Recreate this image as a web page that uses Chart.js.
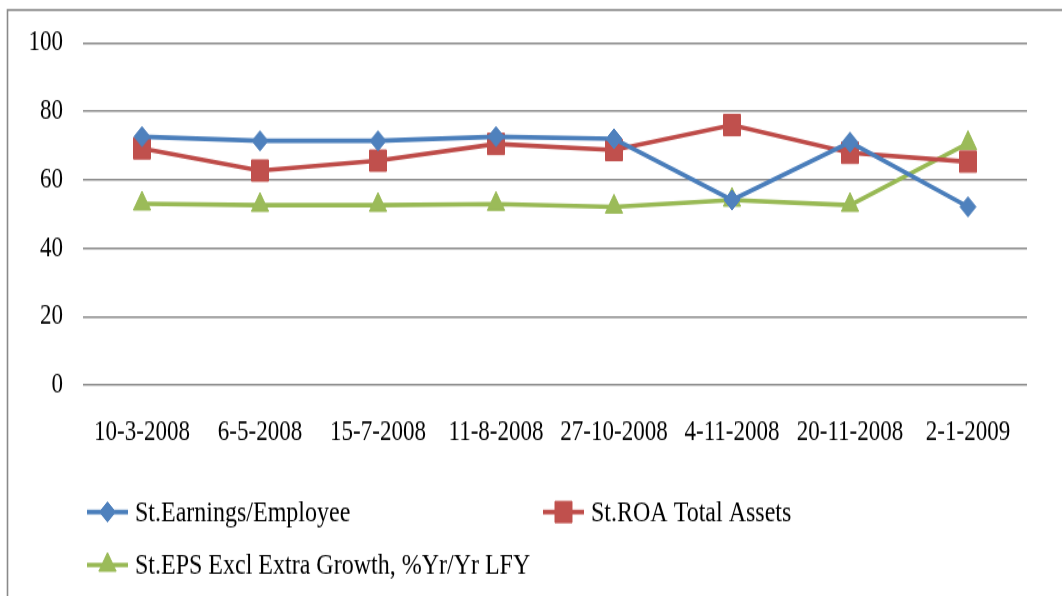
<!DOCTYPE html>
<html>
<head>
<meta charset="utf-8">
<script src="https://cdn.jsdelivr.net/npm/chart.js@4/dist/chart.umd.min.js"></script>
<style>
  html, body { margin: 0; padding: 0; background: #fff; overflow: hidden; width: 1062px; height: 596px; }
  #page { position: relative; width: 1062px; height: 596px; overflow: hidden; }
  #wrap { position: absolute; left: 0; top: 0; width: 1062px; height: 477px; transform: scaleY(1.25); transform-origin: 0 0; }
  canvas { display: block; }
</style>
</head>
<body>
<div id="page"><div id="wrap"><canvas id="chart" width="1062" height="477"></canvas></div></div>
<script>
// Dates of each observation
const dates = ['10-3-2008', '6-5-2008', '15-7-2008', '11-8-2008', '27-10-2008', '4-11-2008', '20-11-2008', '2-1-2009'];

// Series values
const earningsPerEmployee = [72.6, 71.4, 71.4, 72.6, 72.0, 54.1, 71.0, 52.1];
const roaTotalAssets      = [69.2, 62.7, 65.6, 70.5, 68.7, 76.0, 67.9, 65.3];
const epsExclExtraGrowth  = [53.0, 52.6, 52.6, 52.9, 52.1, 54.1, 52.6, 70.7];

// Series names
const seriesNames = ['St.Earnings/Employee', 'St.ROA Total Assets', 'St.EPS Excl Extra Growth, %Yr/Yr LFY'];

// Value axis ticks
const yTicks = [0, 20, 40, 60, 80, 100];

const FONT = "'Liberation Serif', 'Times New Roman', serif";
Chart.defaults.font.family = FONT;
Chart.defaults.color = '#000';

// Gray frame around the whole chart
const framePlugin = {
  id: 'frame',
  beforeDraw(chart) {
    const ctx = chart.ctx;
    ctx.save();
    ctx.fillStyle = '#fff';
    ctx.fillRect(0, 0, chart.width, chart.height);
    ctx.strokeStyle = '#8a8a8a';
    ctx.lineWidth = 1.6;
    ctx.strokeRect(7.5, 8, chart.width + 50, chart.height + 50);
    ctx.restore();
  }
};

// Legend laid out in two fixed columns below the plot
const columnLegend = {
  id: 'columnLegend',
  afterDraw(chart, args, opts) {
    const ctx = chart.ctx;
    ctx.save();
    chart.data.datasets.forEach((ds, i) => {
      const x = opts.columns[i % opts.columns.length];
      const y = opts.rows[Math.floor(i / opts.columns.length)];
      ctx.strokeStyle = ds.borderColor;
      ctx.lineWidth = ds.borderWidth;
      ctx.beginPath();
      ctx.moveTo(x, y);
      ctx.lineTo(x + opts.lineLength, y);
      ctx.stroke();
      ctx.fillStyle = ds.pointBackgroundColor;
      ctx.strokeStyle = ds.pointBackgroundColor;
      ctx.lineWidth = 1;
      Chart.helpers.drawPoint(ctx, {
        pointStyle: ds.pointStyle,
        radius: ds.pointRadius,
        rotation: 0,
        borderWidth: 1
      }, x + opts.lineLength / 2, y);
      ctx.fillStyle = '#000';
      ctx.font = opts.font;
      ctx.textBaseline = 'middle';
      ctx.textAlign = 'left';
      ctx.fillText(ds.label, x + opts.lineLength + opts.gap, y + 1);
    });
    ctx.restore();
  }
};

new Chart(document.getElementById('chart'), {
  type: 'line',
  data: {
    labels: dates,
    datasets: [
      {
        label: seriesNames[0],
        data: earningsPerEmployee,
        borderColor: '#4A7EBB',
        backgroundColor: '#4F81BD',
        pointBackgroundColor: '#4F81BD',
        pointBorderColor: '#4F81BD',
        pointStyle: 'rectRot',
        pointRadius: 8,
        pointBorderWidth: 1,
        borderWidth: 3.6
      },
      {
        label: seriesNames[1],
        data: roaTotalAssets,
        borderColor: '#BE4B48',
        backgroundColor: '#C0504D',
        pointBackgroundColor: '#C0504D',
        pointBorderColor: '#C0504D',
        pointStyle: 'rect',
        pointRadius: 12,
        pointBorderWidth: 1,
        borderWidth: 3.6
      },
      {
        label: seriesNames[2],
        data: epsExclExtraGrowth,
        borderColor: '#98B954',
        backgroundColor: '#9BBB59',
        pointBackgroundColor: '#9BBB59',
        pointBorderColor: '#9BBB59',
        pointStyle: 'triangle',
        pointRadius: 10,
        pointBorderWidth: 1,
        borderWidth: 3.6
      }
    ]
  },
  options: {
    responsive: false,
    animation: false,
    devicePixelRatio: 1,
    layout: { padding: { top: 34.4, right: 35, bottom: 0, left: 0 } },
    plugins: {
      legend: { display: false },
      tooltip: { enabled: false },
      columnLegend: {
        columns: [87, 543],
        rows: [409.6, 452],
        lineLength: 41,
        gap: 7,
        font: "24px " + FONT
      }
    },
    scales: {
      x: {
        offset: true,
        grid: { display: false, drawTicks: false },
        border: { display: false },
        ticks: { font: { size: 23 }, color: '#000', padding: 24, maxRotation: 0, autoSkip: false },
        afterFit(scale) { scale.height = 169; }
      },
      y: {
        min: 0,
        max: 100,
        afterBuildTicks(scale) { scale.ticks = yTicks.map(v => ({ value: v })); },
        grid: { color: '#8c8c8c', lineWidth: 1.4, drawTicks: false },
        border: { display: false },
        ticks: { font: { size: 23 }, color: '#000', padding: 20 },
        afterFit(scale) { scale.width = 83; }
      }
    }
  },
  plugins: [framePlugin, columnLegend]
});
</script>
</body>
</html>
